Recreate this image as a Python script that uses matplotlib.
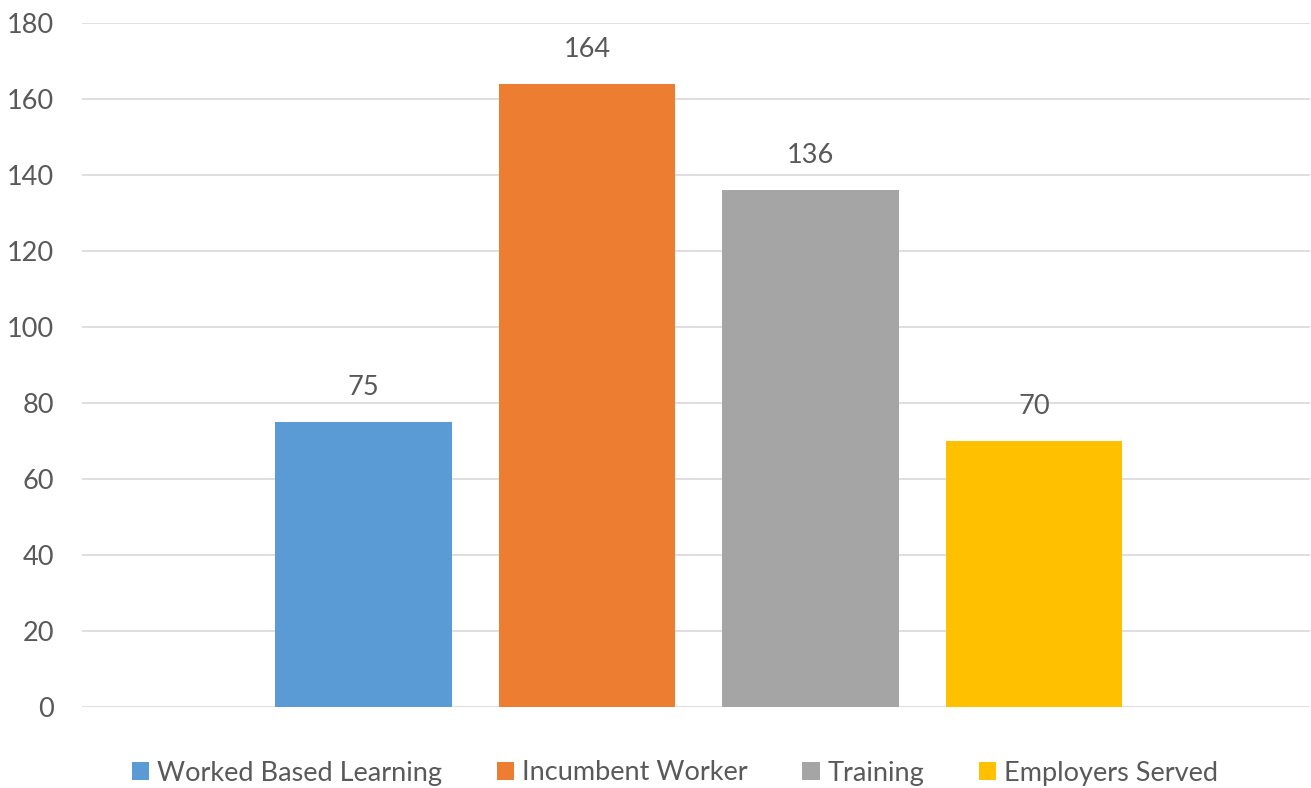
import matplotlib
matplotlib.use("Agg")
import matplotlib.pyplot as plt

series = ["Worked Based Learning", "Incumbent Worker", "Training", "Employers Served"]
values = [75, 164, 136, 70]
colors = ["#5B9BD5", "#ED7D31", "#A5A5A5", "#FFC000"]
yticks = [0, 20, 40, 60, 80, 100, 120, 140, 160, 180]

plt.rcParams['font.family'] = ['Lato', 'DejaVu Sans']
txt = "#595959"
W, H = 1311, 788
fig = plt.figure(figsize=(W/100, H/100), dpi=100)
ax = fig.add_axes([82/W, 1-707/H, (1310-82)/W, (707-23)/H])

handles = []
for i, (s, v, c) in enumerate(zip(series, values, colors)):
    b = ax.bar(i, v, width=0.79, color=c, label=s, zorder=3)
    handles.append(b)
    ax.annotate(str(v), (i, v), xytext=(0, 22), textcoords="offset pixels",
                ha="center", va="bottom", fontsize=19.5, color=txt)

ax.set_ylim(0, 180)
ax.set_xlim(-1.259, 4.235)
ax.set_yticks(yticks)
ax.set_xticks([])
ax.yaxis.grid(True, color="#D9D9D9", linewidth=1.2, zorder=0)
for sp in ax.spines.values():
    sp.set_visible(False)
ax.tick_params(axis="y", length=0, pad=20, labelsize=19.5, labelcolor=txt)

fig.legend(handles=handles, labels=series, loc="center", bbox_to_anchor=(675/W, 1-773/H),
           ncol=4, frameon=False, fontsize=19.5, labelcolor=txt, handlelength=0.65,
           handleheight=0.65, handletextpad=0.3, columnspacing=2.0)

fig.savefig("out.png", dpi=100)
